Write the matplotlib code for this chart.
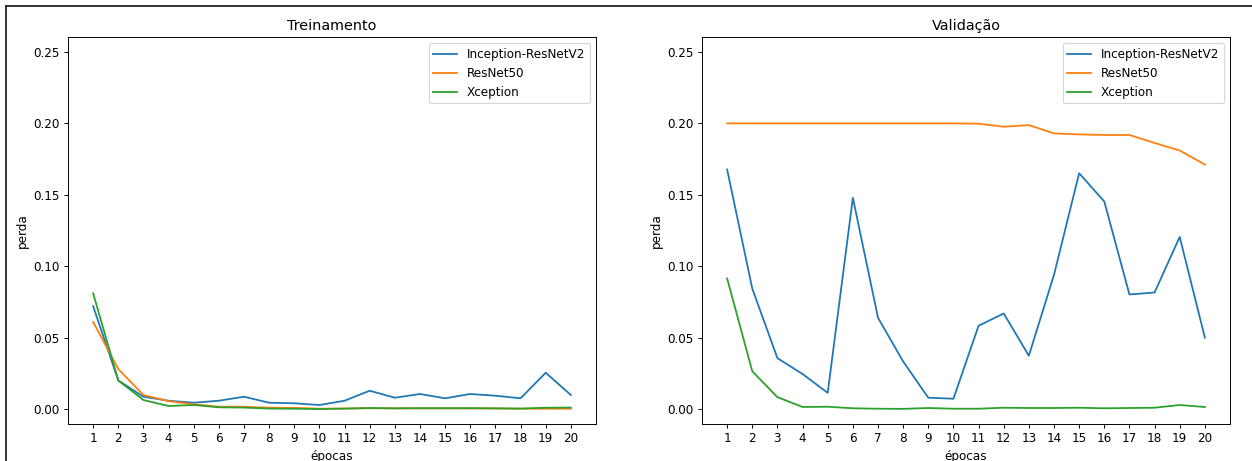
import matplotlib
matplotlib.use("Agg")
import matplotlib.pyplot as plt
from matplotlib.lines import Line2D

epochs = list(range(1, 21))
models = ["Inception-ResNetV2", "ResNet50", "Xception"]
colors = ["#1f77b4", "#ff7f0e", "#2ca02c"]

train_inception = [0.072, 0.020, 0.0086, 0.0058, 0.0044, 0.0058, 0.0086, 0.0044, 0.0040, 0.0028,
                   0.0058, 0.0128, 0.0079, 0.0105, 0.0075, 0.0105, 0.0093, 0.0075, 0.0254, 0.0098]
train_resnet = [0.061, 0.028, 0.0098, 0.0055, 0.0033, 0.0016, 0.0016, 0.0009, 0.0008, 0.0002,
                0.0003, 0.0005, 0.0004, 0.0004, 0.0004, 0.0004, 0.0003, 0.0002, 0.0002, 0.0002]
train_xception = [0.081, 0.020, 0.0063, 0.0021, 0.0028, 0.0012, 0.0010, 0.0003, 0.0002, 0.0000,
                  0.0003, 0.0007, 0.0005, 0.0006, 0.0006, 0.0006, 0.0005, 0.0003, 0.0009, 0.0010]

val_inception = [0.1677, 0.0843, 0.0356, 0.0245, 0.0113, 0.1479, 0.0639, 0.0333, 0.0079, 0.0072,
                 0.0583, 0.0669, 0.0373, 0.0940, 0.1651, 0.1453, 0.0802, 0.0816, 0.1205, 0.0500]
val_resnet = [0.2000, 0.2000, 0.2000, 0.2000, 0.2000, 0.2000, 0.2000, 0.2000, 0.2000, 0.2000,
              0.1998, 0.1977, 0.1988, 0.1930, 0.1923, 0.1919, 0.1919, 0.1863, 0.1810, 0.1712]
val_xception = [0.0914, 0.0264, 0.0083, 0.0014, 0.0016, 0.0005, 0.0002, 0.0001, 0.0007, 0.0002,
                0.0002, 0.0009, 0.0007, 0.0007, 0.0009, 0.0005, 0.0007, 0.0009, 0.0028, 0.0014]

titles = ["Treinamento", "Validação"]
data = [[train_inception, train_resnet, train_xception],
        [val_inception, val_resnet, val_xception]]

W, H = 1252, 461
DPI = 86
fig = plt.figure(figsize=(W / DPI, H / DPI), dpi=DPI)
lefts = [68, 702]
for i, left in enumerate(lefts):
    ax = fig.add_axes([left / W, (H - 424) / H, 528 / W, 387 / H])
    for series, name, c in zip(data[i], models, colors):
        ax.plot(epochs, series, color=c, label=name, linewidth=1.5)
    ax.set_xlim(0, 21)
    ax.set_ylim(-0.0105, 0.2605)
    ax.set_xticks(epochs)
    ax.set_yticks([0.0, 0.05, 0.10, 0.15, 0.20, 0.25])
    ax.set_yticklabels(["0.00", "0.05", "0.10", "0.15", "0.20", "0.25"])
    ax.set_title(titles[i])
    ax.set_xlabel("épocas")
    ax.set_ylabel("perda")
    ax.legend(loc="upper right")

fig.add_artist(Line2D([5.5 / W, 5.5 / W], [0, 1 - 6 / H], color="black", linewidth=1.3,
                      transform=fig.transFigure))
fig.add_artist(Line2D([5.5 / W, 1], [1 - 6 / H, 1 - 6 / H], color="black", linewidth=1.3,
                      transform=fig.transFigure))

fig.savefig("out.png", dpi=DPI)
